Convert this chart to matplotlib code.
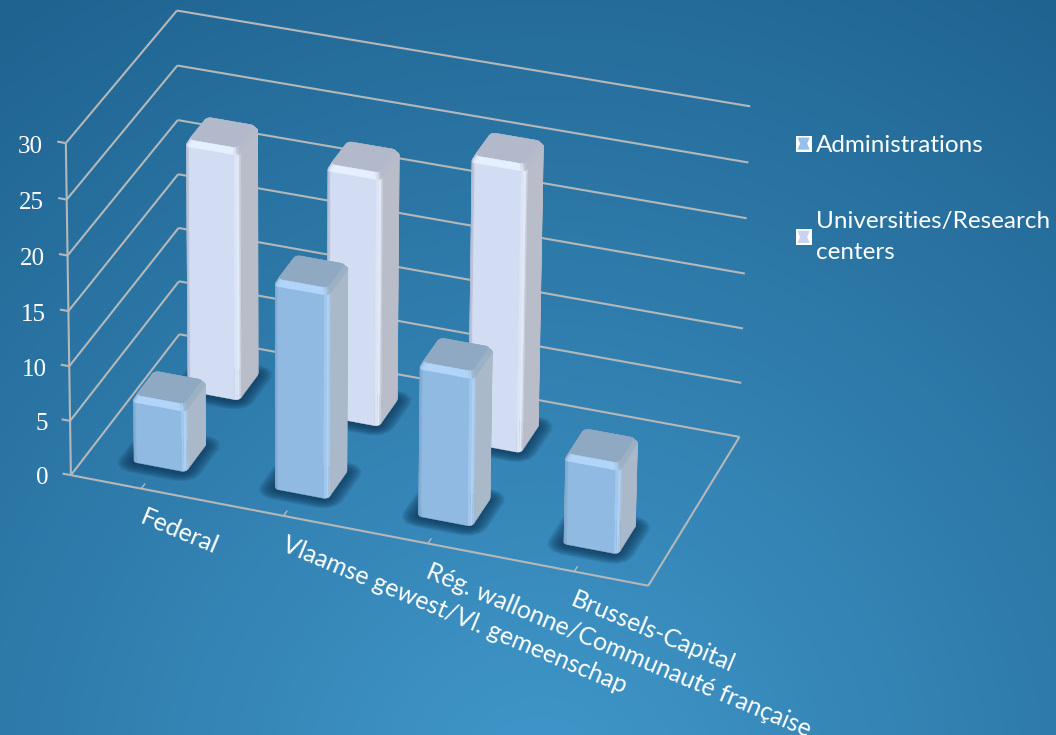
import numpy as np
import matplotlib
matplotlib.use('Agg')
import matplotlib.pyplot as plt
from matplotlib.colors import to_rgb, LinearSegmentedColormap
from matplotlib.legend_handler import HandlerPatch
from matplotlib.patches import Patch, Polygon, Rectangle
from mpl_toolkits.mplot3d.art3d import Line3DCollection, Poly3DCollection

categories = ['Federal', 'Vlaamse gewest/Vl. gemeenschap',
              'Rég. wallonne/Communauté française', 'Brussels-Capital']
administrations = [6, 18.9, 13.8, 8]
universities = [23, 23, 26, 0]
z_ticks = [0, 5, 10, 15, 20, 25, 30]
series_names = ['Administrations', 'Universities/Research\ncenters']

W, H = 1056, 735
LINE = '#b4b8b9'
BLUE = dict(front='#90bae2', side='#a9b9c9', top='#90a9c2', high='#b0d4fa', edge='#7fa6cc')
PALE = dict(front='#d2dcf2', side='#b9bdc9', top='#b1b9cb', high='#e6effd', edge='#a9b4ca')


def mix(a, b, t):
    return (1 - t) * np.array(to_rgb(a)) + t * np.array(to_rgb(b))


# camera: fitted on the corners of the chart box, (x, y, z) -> pixel in the picture
box = [(0, 0, 0, 72, 474), (4, 0, 0, 648, 587), (4, 2, 0, 740, 435), (0, 2, 0, 178, 336),
       (0, 0, 30, 65, 143), (0, 2, 30, 178, 10), (4, 2, 30, 750, 107)]
rows = []
for x, y, z, px, py in box:
    u, v = px / 1000, (H - py) / 1000
    rows.append([x, y, z, 1, 0, 0, 0, 0, -u * x, -u * y, -u * z, -u])
    rows.append([0, 0, 0, 0, x, y, z, 1, -v * x, -v * y, -v * z, -v])
P = np.linalg.svd(np.array(rows))[2][-1].reshape(3, 4)
P /= P[2] @ np.array([2, 1, 15, 1])
P[:2] *= 1000
P4 = np.vstack([P[0], P[1], P[2] - np.array([0, 0, 0, 0.5]), P[2]])


def fig_pos(x, y, z):
    q = P @ np.array([x, y, z, 1])
    return q[0] / q[2] / W, q[1] / q[2] / H


fig = plt.figure(figsize=(W / 100, H / 100), dpi=100)

# background
bg = fig.add_axes([0, 0, 1, 1], zorder=0)
yy, xx = np.mgrid[0:H, 0:W]
dist = np.hypot(xx - 540, yy - 790) / 950
cmap = LinearSegmentedColormap.from_list('bg', ['#4198cb', '#1f6390'])
bg.imshow(dist, cmap=cmap, vmin=0, vmax=1, aspect='auto')
bg.set_axis_off()

ax = fig.add_axes([0, 0, 1, 1], projection='3d', computed_zorder=False, zorder=1)
ax.apply_aspect = lambda position=None: None
ax.set_axis_off()
ax.set_facecolor('none')


def get_proj():
    (x0, y0), (x1, y1) = ax.transData.inverted().transform([(0, 0), (W, H)])
    S = np.array([[(x1 - x0) / W, 0, 0, x0], [0, (y1 - y0) / H, 0, y0],
                  [0, 0, 1, 0], [0, 0, 0, 1]])
    return S @ P4


ax.get_proj = get_proj


def footprint(cx, cy, hx, hy, rx, ry, n=4):
    pts = []
    for sx, sy, a0 in [(1, -1, -90), (1, 1, 0), (-1, 1, 90), (-1, -1, 180)]:
        for a in np.radians(np.linspace(a0, a0 + 90, n)):
            pts.append((cx + sx * (hx - rx) + rx * np.cos(a), cy + sy * (hy - ry) + ry * np.sin(a)))
    return np.array(pts)


def draw_bar(cx, cy, height, pal, zo):
    hx, hy = 0.19, 0.2
    bev = 0.45
    low = footprint(cx, cy, hx, hy, 0.03, 0.04)
    top = footprint(cx, cy, hx - 0.018, hy - 0.03, 0.03, 0.04)
    polys, cols = [], []
    for i in range(len(low)):
        j = (i + 1) % len(low)
        d = low[j] - low[i]
        d = d / np.array([hx, hy])
        nx, ny = d[1], -d[0]
        ln = np.hypot(nx, ny) or 1
        nx, ny = nx / ln, ny / ln
        f, r, l = max(-ny, 0), max(nx, 0), max(-nx, 0)
        col = mix(pal['front'], pal['side'], r ** 2 / (r ** 2 + f ** 2 + 1e-9))
        col = (1 - 0.9 * min(2 * f * r, 1)) * col + 0.9 * min(2 * f * r, 1) * np.array(to_rgb(pal['high']))
        col = (1 - min(2 * f * l, 1)) * col + min(2 * f * l, 1) * np.array(to_rgb(pal['edge']))
        polys.append([(*low[i], 0), (*low[j], 0), (*low[j], height - bev), (*low[i], height - bev)])
        cols.append(col)
        # bevel round the top
        col2 = mix(pal['top'], pal['high'], f ** 2)
        col2 = (1 - 0.5 * r) * col2 + 0.5 * r * np.array(to_rgb(pal['side']))
        polys.append([(*low[i], height - bev), (*low[j], height - bev),
                      (*top[j], height), (*top[i], height)])
        cols.append(col2)
    polys.append([(*p, height) for p in top])
    cols.append(np.array(to_rgb(pal['top'])))
    pc = Poly3DCollection(polys, facecolors=cols, edgecolors=cols, linewidths=0.3, zorder=zo)
    ax.add_collection3d(pc)


def draw_shadow(cx, cy, zo):
    for grow in np.linspace(0.1, 0.0, 9):
        fp = footprint(cx, cy - 0.02, 0.19 + grow, 0.2 + grow * 1.1, 0.03 + grow, 0.04 + grow)
        ax.add_collection3d(Poly3DCollection([[(*p, 0) for p in fp]], facecolors='#0f3a5c',
                                             edgecolors='none', alpha=0.16, zorder=zo))


# box lines
segs = [[(0, 0, 0), (0, 0, 30)], [(0, 0, 0), (4, 0, 0)], [(4, 0, 0), (4, 2, 0)]]
for z in z_ticks:
    segs.append([(0, 0, z), (0, 2, z)])
    segs.append([(0, 2, z), (4, 2, z)])
    segs.append([(-0.06, 0, z), (0, 0, z)])
    fig.text(*fig_pos(-0.16, 0, z - 0.7), str(z), color='white', fontsize=18,
             family='Liberation Serif', ha='right', va='center')
thin = []
for i, name in enumerate(categories):
    thin.append([(i + 0.5, 0, 0), (i + 0.5, 0.07, 0)])
    fig.text(*fig_pos(i + 0.63 - 0.012 * i, -0.32, 0), name, color='white', fontsize=17.8,
             family='Lato', rotation=-22.7, rotation_mode='anchor', ha='left', va='center')
thin.append([(4, 0, 0), (4, 0.07, 0)])
ax.add_collection3d(Line3DCollection(segs, colors=LINE, linewidths=1.5, zorder=2))
ax.add_collection3d(Line3DCollection(thin, colors=LINE, linewidths=1, zorder=2))

# bars, back row first
zo = 3
for i, v in enumerate(universities):
    if v > 0:
        draw_shadow(i + 0.51, 1.5, 2.5)
for i, v in enumerate(administrations):
    draw_shadow(i + 0.51, 0.5, 2.5)
for i, v in enumerate(universities):
    if v > 0:
        draw_bar(i + 0.51, 1.5, v, PALE, zo)
        zo += 0.1
for i, v in enumerate(administrations):
    draw_bar(i + 0.51, 0.5, v, BLUE, zo)
    zo += 0.1


class SwatchHandler(HandlerPatch):
    def create_artists(self, legend, orig, xd, yd, width, height, fontsize, trans):
        s = 11.5
        x0, y0 = -xd + (width - s) / 2, -yd + (height - s) / 2
        sq = Rectangle((x0, y0), s, s, facecolor='white', edgecolor='none', transform=trans)
        xs = [0.12, 0.88, 0.72, 0.88, 0.12, 0.28]
        ys = [0.12, 0.12, 0.5, 0.88, 0.88, 0.5]
        hour = Polygon([(x0 + a * s, y0 + b * s) for a, b in zip(xs, ys)],
                       facecolor=orig.get_facecolor(), edgecolor='none', transform=trans)
        return [sq, hour]


handles = [Patch(facecolor='#93c0ec'), Patch(facecolor='#c7d3f0')]
leg = fig.legend(handles, series_names, loc='upper left', bbox_to_anchor=(786 / W, 1 - 127 / H),
                 bbox_transform=fig.transFigure, frameon=False, labelcolor='white',
                 prop={'family': 'Lato', 'size': 17.5}, labelspacing=2.25, handlelength=0.85,
                 handleheight=0.8, handletextpad=0.1, borderpad=0.3, borderaxespad=0,
                 handler_map={Patch: SwatchHandler()})
leg.get_texts()[1].set_linespacing(1.6)
leg.set_zorder(5)

fig.savefig('out.png', dpi=100)
